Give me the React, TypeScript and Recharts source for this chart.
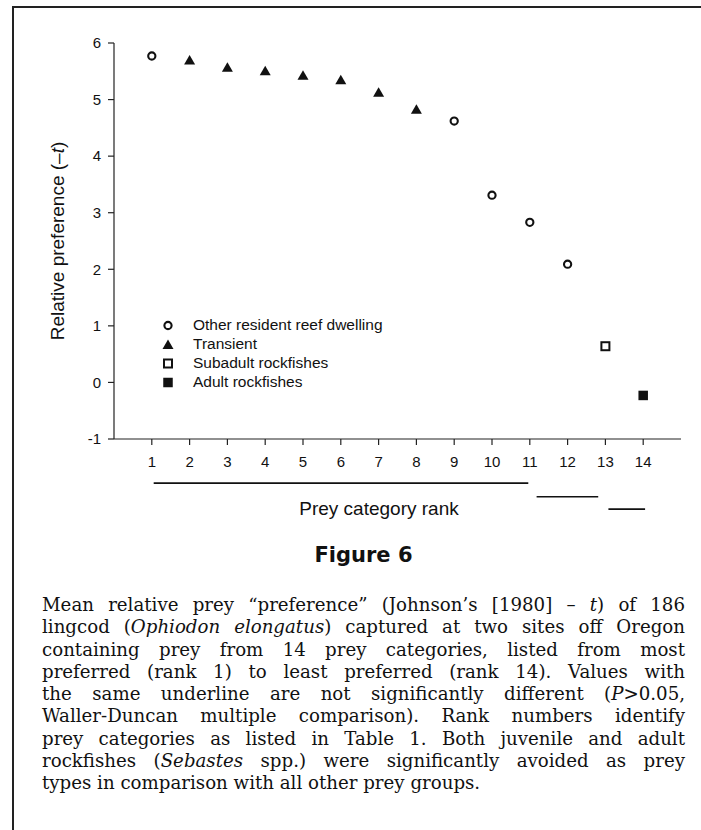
import React from "react"
import { ScatterChart, Scatter, XAxis, YAxis, Legend, ReferenceLine } from "recharts"

const ranks = [1, 2, 3, 4, 5, 6, 7, 8, 9, 10, 11, 12, 13, 14]
const preference = [5.77, 5.7, 5.57, 5.51, 5.43, 5.35, 5.13, 4.83, 4.62, 3.31, 2.83, 2.09, 0.64, -0.23]
const preyGroup = [
  "resident", "transient", "transient", "transient", "transient", "transient", "transient",
  "transient", "resident", "resident", "resident", "resident", "subadult", "adult",
]

const groupKeys = ["resident", "transient", "subadult", "adult"]
const groupNames = ["Other resident reef dwelling", "Transient", "Subadult rockfishes", "Adult rockfishes"]

const yTicks = [-1, 0, 1, 2, 3, 4, 5, 6]

// Waller-Duncan underlines: rank span and the level they sit at (below the axis)
const underlineFrom = [1.05, 11.18, 13.08]
const underlineTo = [10.96, 12.81, 14.05]
const underlineLevel = [-1.78, -2.02, -2.24]

const points = ranks.map((rank, i) => ({ rank, pref: preference[i], group: preyGroup[i] }))

const INK = "#111"
const SANS = "'Liberation Sans', Arial, sans-serif"

function Marker({ kind, cx, cy }: { kind: string; cx: number; cy: number }) {
  if (kind === "resident")
    return <circle cx={cx} cy={cy} r={3.6} fill="#fff" stroke={INK} strokeWidth={2.1} />
  if (kind === "transient")
    return (
      <polygon
        points={`${cx},${cy - 5} ${cx - 5.5},${cy + 4.5} ${cx + 5.5},${cy + 4.5}`}
        fill={INK}
      />
    )
  if (kind === "subadult")
    return <rect x={cx - 4} y={cy - 4} width={8} height={8} fill="#fff" stroke={INK} strokeWidth={2} />
  return <rect x={cx - 4.75} y={cy - 4.75} width={9.5} height={9.5} fill={INK} />
}

function LegendBox({ payload }: any) {
  const items = [...(payload || [])].sort(
    (a: any, b: any) => groupNames.indexOf(a.value) - groupNames.indexOf(b.value)
  )
  return (
    <div style={{ fontFamily: SANS, fontSize: 15.5, color: INK }}>
      {items.map((entry: any) => {
        const kind = groupKeys[groupNames.indexOf(entry.value)]
        return (
          <div key={entry.value} style={{ display: "flex", alignItems: "center", height: 19 }}>
            <svg width={18} height={19}>
              <Marker kind={kind} cx={9} cy={9.5} />
            </svg>
            <span style={{ marginLeft: 16, whiteSpace: "nowrap" }}>{entry.value}</span>
          </div>
        )
      })}
    </div>
  )
}

function YTitle({ viewBox }: any) {
  const x = viewBox.x + 63.5
  const y = viewBox.y + viewBox.height / 2
  return (
    <text x={x} y={y} transform={`rotate(-90, ${x}, ${y})`} textAnchor="middle"
      fontFamily={SANS} fontSize={19} fill={INK}>
      Relative preference (–<tspan fontStyle="italic">t</tspan>)
    </text>
  )
}

function XTitle({ viewBox }: any) {
  const x = viewBox.x + viewBox.width / 2 - 18.5
  const y = viewBox.y + 76
  return (
    <text x={x} y={y} textAnchor="middle" fontFamily={SANS} fontSize={19} fill={INK}>
      Prey category rank
    </text>
  )
}

const captionLines = [
  <>Mean relative prey “preference” (Johnson’s [1980] – <i>t</i>) of 186</>,
  <>lingcod (<i>Ophiodon elongatus</i>) captured at two sites off Oregon</>,
  <>containing prey from 14 prey categories, listed from most</>,
  <>preferred (rank 1) to least preferred (rank 14). Values with</>,
  <>the same underline are not significantly different (<i>P</i>&gt;0.05,</>,
  <>Waller-Duncan multiple comparison). Rank numbers identify</>,
  <>prey categories as listed in Table 1. Both juvenile and adult</>,
  <>rockfishes (<i>Sebastes</i> spp.) were significantly avoided as prey</>,
  <>types in comparison with all other prey groups.</>,
]

const tickStyle = { fill: INK, fontSize: 15, fontFamily: SANS }

export default function App() {
  return (
    <div style={{ position: "absolute", left: 0, top: 0, width: 701, height: 830, background: "#fff", color: INK }}>
      <div style={{ position: "absolute", left: 12, top: 6, right: 0, height: 2, background: "#222" }} />
      <div style={{ position: "absolute", left: 12, top: 6, bottom: 0, width: 2, background: "#222" }} />

      <ScatterChart width={701} height={530} margin={{ top: 43, right: 20, bottom: 11, left: 0 }}>
        <XAxis
          type="number"
          dataKey="rank"
          domain={[0, 15]}
          ticks={ranks}
          interval={0}
          height={80}
          tickSize={6}
          tickMargin={11}
          tick={tickStyle}
          axisLine={{ stroke: "#222", strokeWidth: 1.2 }}
          tickLine={{ stroke: "#222", strokeWidth: 1.2 }}
          label={<XTitle />}
        />
        <YAxis
          type="number"
          dataKey="pref"
          domain={[-1, 6]}
          ticks={yTicks}
          interval={0}
          width={114}
          tickSize={6}
          tickMargin={7}
          tick={tickStyle}
          axisLine={{ stroke: "#222", strokeWidth: 1.2 }}
          tickLine={{ stroke: "#222", strokeWidth: 1.2 }}
          label={<YTitle />}
        />
        {groupKeys.map((key, i) => (
          <Scatter
            key={key}
            name={groupNames[i]}
            data={points.filter((p) => p.group === key)}
            isAnimationActive={false}
            shape={(p: any) => <Marker kind={key} cx={p.cx} cy={p.cy} />}
          />
        ))}
        {underlineFrom.map((from, i) => (
          <ReferenceLine
            key={i}
            segment={[
              { x: from, y: underlineLevel[i] },
              { x: underlineTo[i], y: underlineLevel[i] },
            ]}
            stroke={INK}
            strokeWidth={1.6}
            ifOverflow="visible"
          />
        ))}
        <Legend
          layout="vertical"
          align="center"
          verticalAlign="middle"
          wrapperStyle={{ left: 159, top: 315.5, width: "auto" }}
          content={<LegendBox />}
        />
      </ScatterChart>

      <div style={{ position: "absolute", left: 42, width: 643, top: 543, textAlign: "center",
        fontFamily: "'DejaVu Sans', sans-serif", fontWeight: "bold", fontSize: 21, lineHeight: "24px" }}>
        Figure 6
      </div>
      <div style={{ position: "absolute", left: 42, width: 643, top: 594,
        fontFamily: "'DejaVu Serif', serif", fontSize: 18.2, lineHeight: "22.3px" }}>
        {captionLines.map((line, i) => (
          <div key={i} style={{ textAlign: "justify", textAlignLast: i < captionLines.length - 1 ? "justify" : "left", whiteSpace: "nowrap" }}>
            {line}
          </div>
        ))}
      </div>
    </div>
  )
}
